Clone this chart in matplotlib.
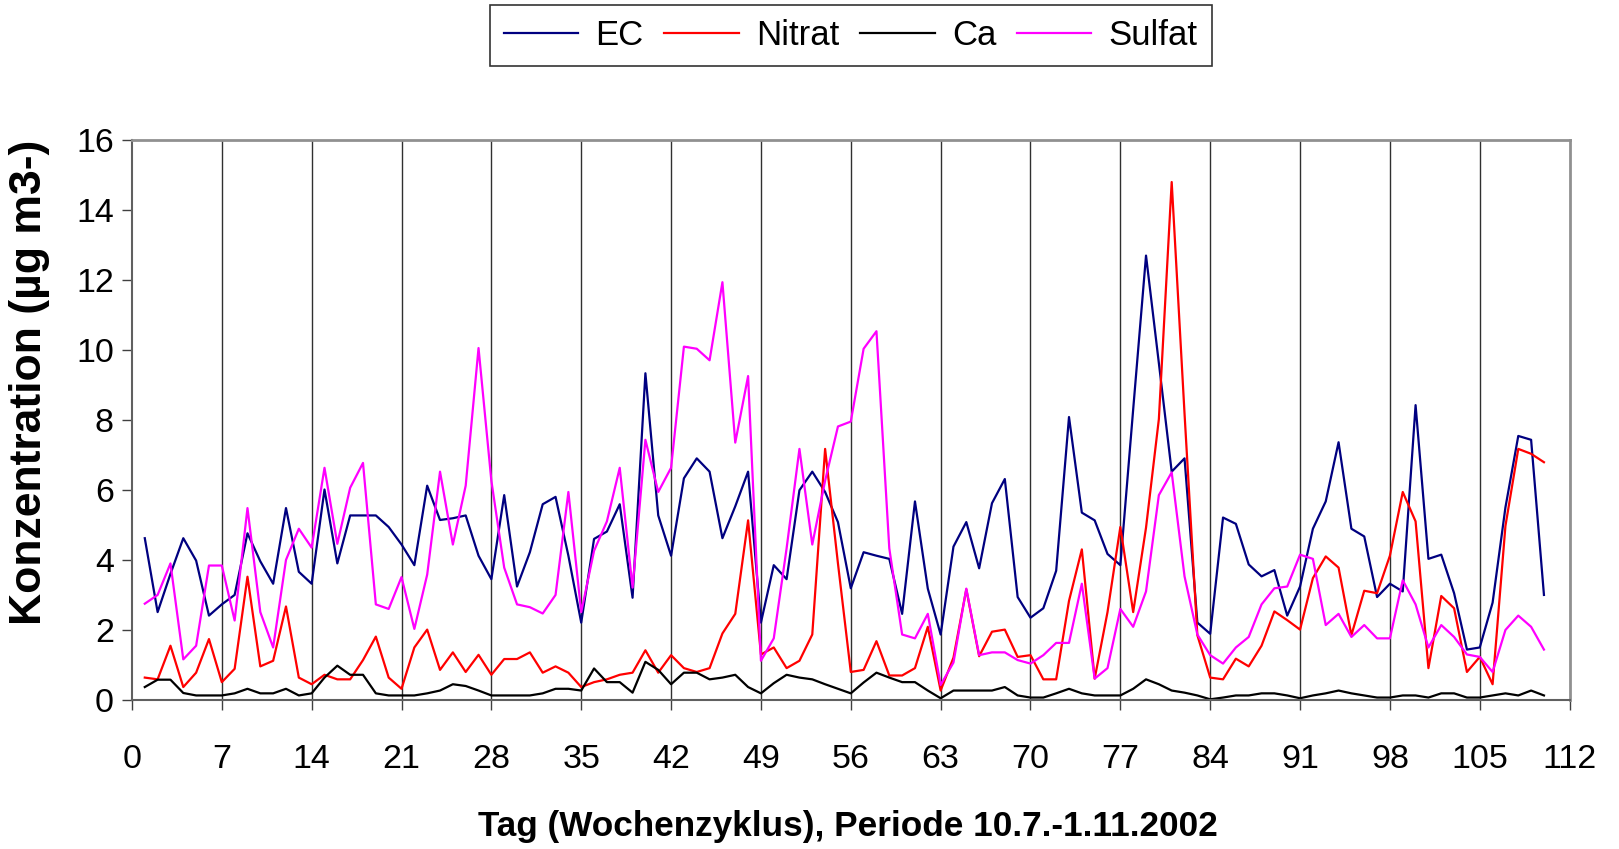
import numpy as np
import matplotlib.pyplot as plt

plt.rcParams['font.family'] = ['Liberation Sans', 'DejaVu Sans']

days = np.arange(1, 111)

ec = [4.62, 2.51, 3.6, 4.62, 3.98, 2.41, 2.73, 3.0, 4.76, 3.96,
      3.32, 5.48, 3.66, 3.32, 6.01, 3.9, 5.27, 5.27, 5.27, 4.94,
      4.44, 3.85, 6.12, 5.14, 5.19, 5.27, 4.12, 3.45, 5.85, 3.24,
      4.22, 5.59, 5.8, 4.12, 2.21, 4.6, 4.81, 5.59, 2.92, 9.33,
      5.27, 4.12, 6.33, 6.9, 6.52, 4.62, 5.53, 6.52, 2.21, 3.85,
      3.45, 5.99, 6.52, 5.94, 5.08, 3.19, 4.22, 4.12, 4.03, 2.46,
      5.67, 3.18, 1.87, 4.38, 5.08, 3.76, 5.62, 6.31, 2.94, 2.35,
      2.62, 3.69, 8.08, 5.35, 5.13, 4.17, 3.85, 8.3, 12.69, 9.62,
      6.52, 6.9, 2.21, 1.89, 5.21, 5.03, 3.87, 3.53, 3.71, 2.41,
      3.24, 4.89, 5.67, 7.36, 4.89, 4.67, 2.94, 3.32, 3.1, 8.42,
      4.03, 4.15, 3.05, 1.44, 1.5, 2.78, 5.5, 7.54, 7.43, 3.0]

nitrat = [0.64, 0.59, 1.55, 0.37, 0.78, 1.74, 0.51, 0.89, 3.52, 0.96,
          1.12, 2.67, 0.64, 0.45, 0.72, 0.59, 0.59, 1.14, 1.81, 0.64,
          0.32, 1.5, 2.01, 0.86, 1.36, 0.8, 1.29, 0.72, 1.17, 1.17,
          1.36, 0.78, 0.96, 0.78, 0.37, 0.51, 0.59, 0.72, 0.78, 1.42,
          0.78, 1.28, 0.91, 0.8, 0.91, 1.9, 2.46, 5.13, 1.3, 1.5,
          0.91, 1.12, 1.87, 7.17, 3.9, 0.8, 0.86, 1.68, 0.7, 0.7,
          0.91, 2.09, 0.27, 1.21, 3.16, 1.25, 1.95, 2.01, 1.23, 1.28,
          0.59, 0.59, 2.83, 4.3, 0.61, 2.51, 4.94, 2.51, 4.92, 8.02,
          14.79, 8.18, 1.85, 0.64, 0.59, 1.18, 0.96, 1.55, 2.53, 2.28,
          2.01, 3.48, 4.1, 3.78, 1.85, 3.12, 3.05, 4.12, 5.94, 5.1,
          0.91, 2.97, 2.62, 0.8, 1.23, 0.45, 4.97, 7.17, 7.03, 6.79]

ca = [0.37, 0.58, 0.58, 0.2, 0.13, 0.13, 0.13, 0.19, 0.32, 0.19,
      0.19, 0.32, 0.13, 0.19, 0.64, 0.98, 0.72, 0.72, 0.19, 0.13,
      0.13, 0.13, 0.19, 0.27, 0.45, 0.4, 0.27, 0.13, 0.13, 0.13,
      0.13, 0.19, 0.32, 0.32, 0.27, 0.9, 0.51, 0.51, 0.21, 1.09,
      0.86, 0.45, 0.78, 0.78, 0.59, 0.64, 0.72, 0.37, 0.19, 0.48,
      0.72, 0.64, 0.59, 0.45, 0.32, 0.19, 0.5, 0.78, 0.64, 0.51,
      0.51, 0.27, 0.05, 0.27, 0.27, 0.27, 0.27, 0.37, 0.13, 0.07,
      0.07, 0.19, 0.32, 0.19, 0.13, 0.13, 0.13, 0.32, 0.59, 0.45,
      0.27, 0.21, 0.13, 0.02, 0.07, 0.13, 0.13, 0.19, 0.19, 0.13,
      0.05, 0.13, 0.19, 0.27, 0.19, 0.13, 0.07, 0.07, 0.13, 0.13,
      0.07, 0.19, 0.19, 0.07, 0.07, 0.13, 0.19, 0.13, 0.27, 0.13]

sulfat = [2.75, 3.0, 3.9, 1.16, 1.55, 3.84, 3.84, 2.27, 5.48, 2.51,
          1.5, 4.0, 4.89, 4.35, 6.63, 4.46, 6.06, 6.77, 2.73, 2.6,
          3.51, 2.03, 3.58, 6.52, 4.44, 6.12, 10.05, 6.26, 3.78, 2.73,
          2.65, 2.47, 3.0, 5.94, 2.51, 4.26, 5.1, 6.63, 3.21, 7.43,
          5.94, 6.63, 10.09, 10.03, 9.7, 11.93, 7.35, 9.25, 1.12, 1.76,
          4.33, 7.17, 4.44, 6.26, 7.81, 7.95, 10.03, 10.53, 4.33, 1.87,
          1.76, 2.46, 0.43, 1.07, 3.18, 1.28, 1.36, 1.36, 1.14, 1.04,
          1.28, 1.63, 1.63, 3.32, 0.61, 0.91, 2.6, 2.09, 3.1, 5.85,
          6.5, 3.53, 1.87, 1.28, 1.04, 1.5, 1.8, 2.73, 3.19, 3.24,
          4.15, 4.03, 2.14, 2.46, 1.8, 2.14, 1.76, 1.76, 3.42, 2.73,
          1.5, 2.14, 1.8, 1.3, 1.23, 0.8, 2.0, 2.41, 2.09, 1.44]

week_ticks = np.arange(0, 113, 7)

fig = plt.figure(figsize=(16.19, 8.49), dpi=100)
ax = fig.add_axes([0.0815, 0.1755, 0.888, 0.66])

ax.plot(days, ec, color='#000080', linewidth=1.6, label='EC')
ax.plot(days, nitrat, color='#FF0000', linewidth=1.6, label='Nitrat')
ax.plot(days, ca, color='black', linewidth=1.6, label='Ca')
ax.plot(days, sulfat, color='#FF00FF', linewidth=1.6, label='Sulfat')

ax.set_xlim(0, 112)
ax.set_ylim(0, 16)
ax.set_xticks(week_ticks)
ax.set_yticks(np.arange(0, 17, 2))
ax.tick_params(axis='both', labelsize=24.5, length=7, width=1, color='#404040',
               direction='out')
ax.tick_params(axis='x', pad=25)
ax.tick_params(axis='y', pad=6)

# weekly separators
for d in week_ticks[1:-1]:
    ax.axvline(d, color='#303030', linewidth=1.0, zorder=0)

for side in ['top', 'right']:
    ax.spines[side].set_color('#909090')
    ax.spines[side].set_linewidth(2)
for side in ['left', 'bottom']:
    ax.spines[side].set_color('#606060')
    ax.spines[side].set_linewidth(1.5)

fig.text(0.0182, 0.55, 'Konzentration (µg m3-)', fontsize=32, fontweight='bold',
         rotation=90, ha='center', va='center')
fig.text(0.524, 0.027, 'Tag (Wochenzyklus), Periode 10.7.-1.11.2002', fontsize=25.3,
         fontweight='bold', ha='center', va='center')

leg = fig.legend(loc='upper center', bbox_to_anchor=(0.5255, 0.994), ncol=4,
                 fontsize=25, frameon=True, fancybox=False, handlelength=2.14,
                 columnspacing=0.6, handletextpad=0.5, borderpad=0.4,
                 borderaxespad=0)
leg.get_frame().set_edgecolor('black')
leg.get_frame().set_linewidth(1.2)

fig.savefig('out.png', dpi=100)
